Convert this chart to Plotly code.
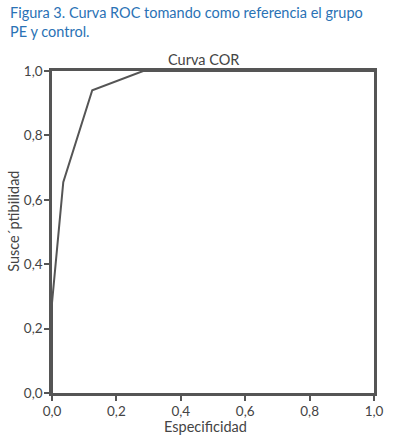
import plotly.graph_objects as go

especificidad = [0.0, 0.0, 0.035, 0.125, 0.283, 1.0]
susceptibilidad = [0.0, 0.28, 0.655, 0.94, 1.0, 1.0]
tick_vals = [0.0, 0.2, 0.4, 0.6, 0.8, 1.0]
tick_text = ["0,0", "0,2", "0,4", "0,6", "0,8", "1,0"]

axcol = "#555555"
txtcol = "#444444"
font = "Lato"

fig = go.Figure()
fig.add_trace(go.Scatter(x=especificidad, y=susceptibilidad, mode="lines",
                         line=dict(color=axcol, width=2), showlegend=False,
                         cliponaxis=False))

axis_common = dict(range=[0, 1], tickvals=tick_vals, ticktext=tick_text,
                   showgrid=False, zeroline=False, showline=True, mirror=True,
                   linecolor=axcol, linewidth=2.5, ticks="outside", ticklen=5,
                   tickwidth=2, tickcolor=axcol, automargin=False,
                   tickfont=dict(family=font, size=13.5, color=txtcol))

fig.update_layout(
    width=394, height=437,
    margin=dict(l=52, r=20, t=71, b=44),
    paper_bgcolor="white", plot_bgcolor="white",
    xaxis=dict(**axis_common, ticklabelstandoff=-1),
    yaxis=dict(**axis_common, ticklabelstandoff=-1),
    annotations=[
        dict(text="Figura 3. Curva ROC tomando como referencia el grupo<br>PE y control.",
             xref="paper", yref="paper", x=-0.137, y=1.215, xanchor="left", yanchor="top",
             align="left", showarrow=False,
             font=dict(family=font, size=14.5, color="#2a72b5")),
        dict(text="Curva COR", xref="paper", yref="paper", x=0.47, y=1.0,
             xanchor="center", yanchor="bottom", yshift=1, showarrow=False,
             font=dict(family=font, size=14.5, color=txtcol)),
        dict(text="Especificidad", xref="paper", yref="paper", x=0.478, y=-0.104,
             xanchor="center", yanchor="middle", showarrow=False,
             font=dict(family=font, size=14.5, color=txtcol)),
        dict(text="Susce´ptibilidad", xref="paper", yref="paper", x=-0.122, y=0.534,
             xanchor="center", yanchor="middle", textangle=-90, showarrow=False,
             font=dict(family=font, size=14.5, color=txtcol)),
    ],
)

fig.write_html("out.html", config={"displayModeBar": False},
               post_script="document.body.style.margin='0';")
